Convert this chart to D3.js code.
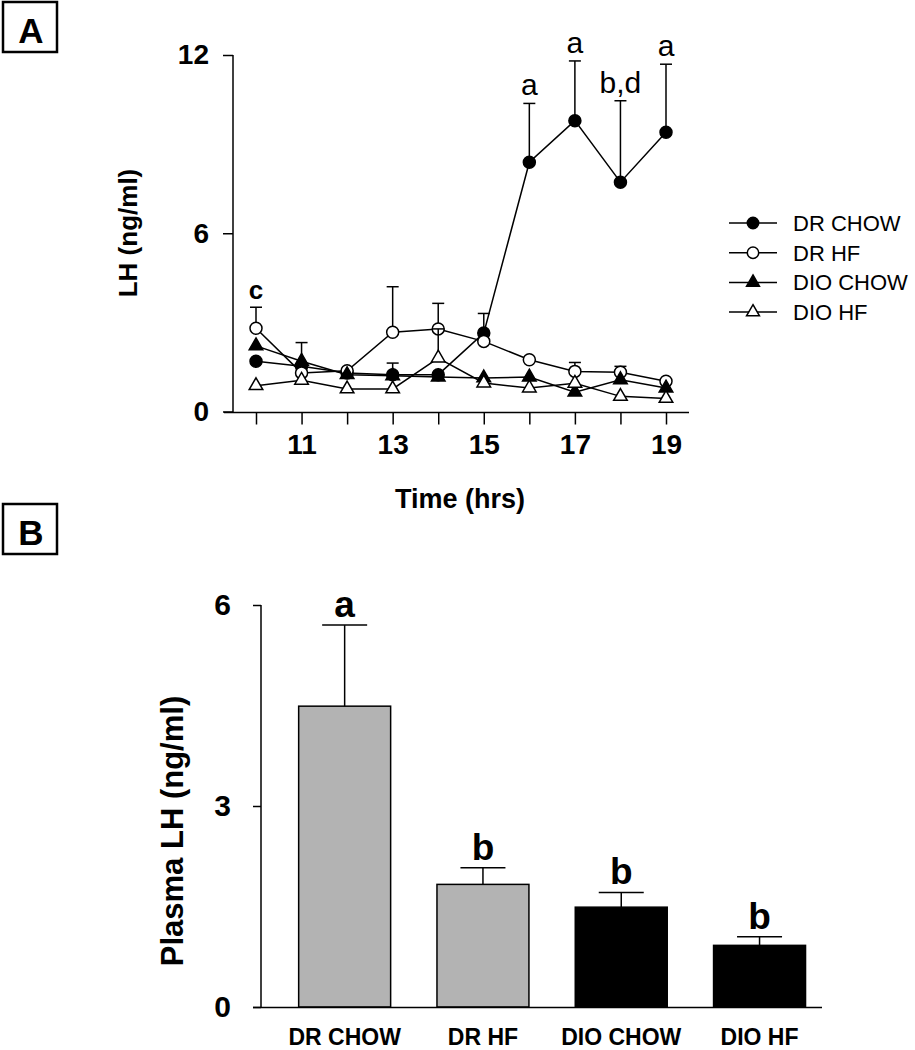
<!DOCTYPE html>
<html>
<head>
<meta charset="utf-8">
<script src="https://cdn.jsdelivr.net/npm/d3@7"></script>
<style>
body { margin: 0; background: #fff; }
text { font-family: "Liberation Sans", Arial, sans-serif; fill: #000; }
</style>
</head>
<body>
<div id="chart"></div>
<script>
// ---- panel A data (LH over time) ----
var hours = [10, 11, 12, 13, 14, 15, 16, 17, 18, 19];
var seriesNames = ["DR CHOW", "DR HF", "DIO CHOW", "DIO HF"];
var drChow    = [1.69, 1.52, 1.30, 1.24, 1.24, 2.64, 8.39, 9.79, 7.72, 9.40];
var drChowSem = [0, 0.80, 0, 0.39, 0, 0.66, 1.98, 2.01, 2.74, 2.29];
var drHf      = [2.80, 1.30, 1.37, 2.67, 2.78, 2.36, 1.74, 1.35, 1.32, 1.02];
var drHfSem   = [0.71, 0, 0, 1.53, 0.86, 0, 0, 0.30, 0.20, 0];
var dioChow   = [2.21, 1.69, 1.24, 1.20, 1.16, 1.13, 1.16, 0.65, 1.07, 0.79];
var dioChowSem= [0, 0, 0, 0, 0, 0, 0, 0, 0, 0];
var dioHf     = [0.87, 1.05, 0.76, 0.76, 1.80, 0.96, 0.79, 0.95, 0.51, 0.44];
var dioHfSem  = [0, 0, 0, 0, 0.98, 0, 0, 0, 0, 0];
var yTicksA = [0, 6, 12];
var xLabelTicks = [11, 13, 15, 17, 19];
// significance letters: [series index, hour, letter]
var sigA = [[1, 10, "c"], [0, 16, "a"], [0, 17, "a"], [0, 18, "b,d"], [0, 19, "a"]];

// ---- panel B data (plasma LH) ----
var groups = ["DR CHOW", "DR HF", "DIO CHOW", "DIO HF"];
var plasmaLH = [4.49, 1.83, 1.49, 0.92];
var plasmaSem = [1.21, 0.25, 0.22, 0.13];
var plasmaSig = ["a", "b", "b", "b"];
var yTicksB = [0, 3, 6];

var svg = d3.select("#chart").append("svg")
    .attr("width", 915)
    .attr("height", 1050);

// panel letter boxes
function panelLabel(x, y, letter) {
    svg.append("rect")
        .attr("x", x).attr("y", y)
        .attr("width", 54).attr("height", 50)
        .attr("fill", "none").attr("stroke", "#000").attr("stroke-width", 2.5);
    svg.append("text")
        .attr("x", x + 28).attr("y", y + 41)
        .attr("text-anchor", "middle")
        .style("font-size", "35px").style("font-weight", "bold")
        .text(letter);
}
panelLabel(3, 2, "A");
panelLabel(3, 504, "B");

// ================= Panel A =================
var x = d3.scaleLinear().domain([10, 19]).range([256, 666]);
var y = d3.scaleLinear().domain([0, 12]).range([411.5, 55]);

var gA = svg.append("g");

// axes
var leftAxis = d3.axisLeft(y).tickValues(yTicksA).tickSize(10).tickPadding(14)
    .tickFormat(d3.format("d"));
var yAxisG = gA.append("g").attr("transform", "translate(233,0)").call(leftAxis);
yAxisG.select(".domain").remove();
yAxisG.append("line").attr("x1", 0).attr("x2", 0).attr("y1", 55).attr("y2", 412.5)
    .attr("stroke", "#000").attr("stroke-width", 1.5);

var bottomAxis = d3.axisBottom(x).tickValues(hours).tickSize(12).tickPadding(10)
    .tickFormat(function(d) { return xLabelTicks.indexOf(d) >= 0 ? d : ""; });
var xAxisG = gA.append("g").attr("transform", "translate(0,412.5)").call(bottomAxis);
xAxisG.select(".domain").remove();
xAxisG.append("line").attr("x1", 224).attr("x2", 689).attr("y1", 0).attr("y2", 0)
    .attr("stroke", "#000").attr("stroke-width", 1.5);

[yAxisG, xAxisG].forEach(function(g) {
    g.selectAll(".tick line").attr("stroke", "#000").attr("stroke-width", 1.5);
    g.selectAll(".tick text")
        .style("font-family", "'Liberation Sans', Arial, sans-serif")
        .style("font-size", "28px").style("font-weight", "bold").attr("fill", "#000");
});

// axis titles
gA.append("text")
    .attr("transform", "translate(137,233) rotate(-90)")
    .attr("text-anchor", "middle")
    .style("font-size", "26px").style("font-weight", "bold")
    .text("LH (ng/ml)");
gA.append("text")
    .attr("x", 460).attr("y", 508)
    .attr("text-anchor", "middle")
    .style("font-size", "27px").style("font-weight", "bold")
    .text("Time (hrs)");

var seriesValues = [drChow, drHf, dioChow, dioHf];
var seriesSem = [drChowSem, drHfSem, dioChowSem, dioHfSem];
var seriesShape = ["circle", "circle", "triangle", "triangle"];
var seriesFill = ["#000", "#fff", "#000", "#fff"];

var line = d3.line()
    .x(function(d) { return x(d.h); })
    .y(function(d) { return y(d.v); });

function marker(g, shape, fill, cx, cy, scale) {
    if (shape === "circle") {
        g.append("circle").attr("cx", cx).attr("cy", cy).attr("r", 6 * scale)
            .attr("fill", fill).attr("stroke", "#000").attr("stroke-width", 1.5);
    } else {
        g.append("path")
            .attr("d", d3.symbol(d3.symbolTriangle, 80 * scale * scale)())
            .attr("transform", "translate(" + cx + "," + cy + ")")
            .attr("fill", fill).attr("stroke", "#000").attr("stroke-width", 1.5);
    }
}

seriesValues.forEach(function(vals, si) {
    var pts = hours.map(function(h, i) { return {h: h, v: vals[i], e: seriesSem[si][i]}; });
    var sg = gA.append("g");
    // error bars (upper only)
    pts.forEach(function(p) {
        if (p.e > 0) {
            sg.append("line")
                .attr("x1", x(p.h)).attr("x2", x(p.h))
                .attr("y1", y(p.v)).attr("y2", y(p.v + p.e))
                .attr("stroke", "#000").attr("stroke-width", 1.5);
            sg.append("line")
                .attr("x1", x(p.h) - 6).attr("x2", x(p.h) + 6)
                .attr("y1", y(p.v + p.e)).attr("y2", y(p.v + p.e))
                .attr("stroke", "#000").attr("stroke-width", 1.5);
        }
    });
    sg.append("path").datum(pts)
        .attr("d", line)
        .attr("fill", "none").attr("stroke", "#000").attr("stroke-width", 1.5);
    pts.forEach(function(p) {
        marker(sg, seriesShape[si], seriesFill[si], x(p.h), y(p.v), 1);
    });
});

// significance letters panel A
sigA.forEach(function(s) {
    var i = hours.indexOf(s[1]);
    var top = seriesValues[s[0]][i] + seriesSem[s[0]][i];
    gA.append("text")
        .attr("x", x(s[1])).attr("y", y(top) - 8)
        .attr("text-anchor", "middle")
        .style("font-size", s[2] === "c" ? "26px" : "30px")
        .style("font-weight", s[2] === "c" ? "bold" : "normal")
        .text(s[2]);
});

// legend
var legend = gA.append("g");
seriesNames.forEach(function(name, si) {
    var ly = 223 + si * 29.7;
    legend.append("line").attr("x1", 729).attr("x2", 777).attr("y1", ly).attr("y2", ly)
        .attr("stroke", "#000").attr("stroke-width", 1.5);
    marker(legend, seriesShape[si], seriesFill[si], 753, ly, 0.95);
    legend.append("text").attr("x", 793).attr("y", ly + 8)
        .style("font-size", "22px")
        .text(name);
});

// ================= Panel B =================
var xb = d3.scaleBand().domain(groups).range([275.5, 828.7])
    .paddingInner(0.335).paddingOuter(0.1675);
var yb = d3.scaleLinear().domain([0, 6]).range([1007, 605]);

var gB = svg.append("g");
var barFill = ["#b3b3b3", "#b3b3b3", "#000", "#000"];

var bAxis = d3.axisLeft(yb).tickValues(yTicksB).tickSize(8).tickPadding(22)
    .tickFormat(d3.format("d"));
var bAxisG = gB.append("g").attr("transform", "translate(261,0)").call(bAxis);
bAxisG.select(".domain").remove();
bAxisG.append("line").attr("x1", 0).attr("x2", 0).attr("y1", 605).attr("y2", 1007.5)
    .attr("stroke", "#000").attr("stroke-width", 1.5);
bAxisG.selectAll(".tick line").attr("stroke", "#000").attr("stroke-width", 1.5);
bAxisG.selectAll(".tick text")
    .style("font-family", "'Liberation Sans', Arial, sans-serif")
    .style("font-size", "30px").style("font-weight", "bold").attr("fill", "#000");

// bars
gB.selectAll("rect.bar")
    .data(groups)
    .enter()
    .append("rect")
    .attr("class", "bar")
    .attr("x", function(d) { return xb(d); })
    .attr("width", xb.bandwidth())
    .attr("y", function(d, i) { return yb(plasmaLH[i]); })
    .attr("height", function(d, i) { return yb(0) - yb(plasmaLH[i]); })
    .attr("fill", function(d, i) { return barFill[i]; })
    .attr("stroke", "#000").attr("stroke-width", 1.5);

// error bars
groups.forEach(function(g, i) {
    var cx = xb(g) + xb.bandwidth() / 2;
    var top = yb(plasmaLH[i] + plasmaSem[i]);
    gB.append("line").attr("x1", cx).attr("x2", cx)
        .attr("y1", yb(plasmaLH[i])).attr("y2", top)
        .attr("stroke", "#000").attr("stroke-width", 1.5);
    gB.append("line").attr("x1", cx - 22.5).attr("x2", cx + 22.5)
        .attr("y1", top).attr("y2", top)
        .attr("stroke", "#000").attr("stroke-width", 1.5);
    gB.append("text").attr("x", cx).attr("y", top - 8)
        .attr("text-anchor", "middle")
        .style("font-size", "37px").style("font-weight", "bold")
        .text(plasmaSig[i]);
    gB.append("text").attr("x", cx).attr("y", 1045)
        .attr("text-anchor", "middle")
        .style("font-size", "23px").style("font-weight", "bold")
        .text(g);
});

// x axis line for panel B
gB.append("line").attr("x1", 253).attr("x2", 822).attr("y1", 1007.5).attr("y2", 1007.5)
    .attr("stroke", "#000").attr("stroke-width", 1.5);

gB.append("text")
    .attr("transform", "translate(183,831) rotate(-90)")
    .attr("text-anchor", "middle")
    .style("font-size", "31px").style("font-weight", "bold")
    .text("Plasma LH (ng/ml)");
</script>
</body>
</html>
